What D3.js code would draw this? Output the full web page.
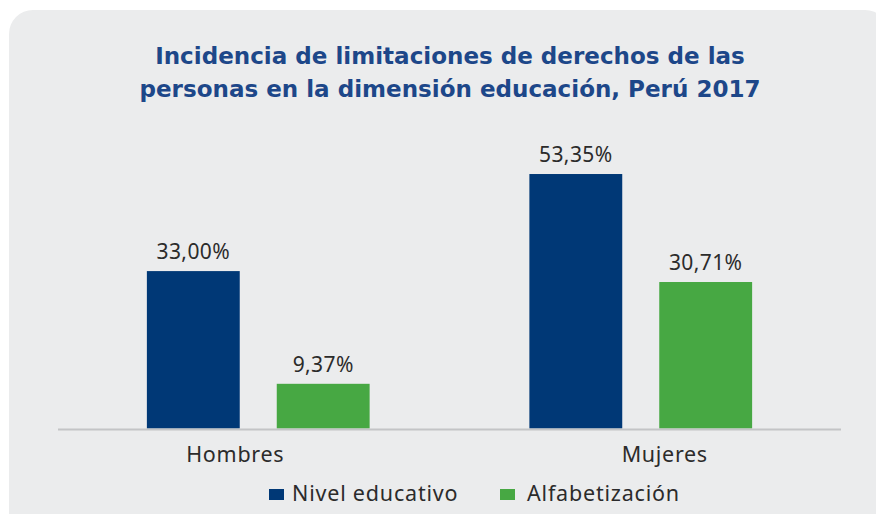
<!DOCTYPE html>
<html>
<head>
<meta charset="utf-8">
<script src="https://cdn.jsdelivr.net/npm/d3@7"></script>
<style>
  body { margin: 0; background: #ffffff; }
  text { font-family: "Noto Sans", sans-serif; }
</style>
</head>
<body>
<div id="wrapper"></div>
<script>
const categories = ["Hombres", "Mujeres"];
const seriesNames = ["Nivel educativo", "Alfabetización"];
const nivelEducativo = [33.00, 53.35];
const alfabetizacion = [9.37, 30.71];
const titleLines = [
    "Incidencia de limitaciones de derechos de las",
    "personas en la dimensión educación, Perú 2017"
];

const colors = ["#003876", "#47a843"];

function drawBarChart() {
    const width = 876;
    const height = 514;

    const dataset = categories.map((cat, i) => ({
        category: cat,
        values: [nivelEducativo[i], alfabetizacion[i]]
    }));

    const wrapper = d3.select("#wrapper")
        .append("svg")
            .attr("width", width)
            .attr("height", height);

    // gray rounded panel
    wrapper.append("rect")
        .attr("x", 9)
        .attr("y", 10)
        .attr("width", 880)
        .attr("height", 600)
        .attr("rx", 24)
        .attr("fill", "#ebeced");

    // title, sized so the first line spans ~590px like the original
    const title = wrapper.append("text")
        .attr("x", 450)
        .attr("y", 64)
        .attr("text-anchor", "middle")
        .attr("fill", "#1d4789")
        .style("font-family", "'DejaVu Sans', sans-serif")
        .style("font-size", "20px")
        .style("font-weight", "bold");

    title.selectAll("tspan")
        .data(titleLines)
        .join("tspan")
            .attr("x", 450)
            .attr("dy", (d, i) => i === 0 ? 0 : 33)
            .text(d => d);

    const firstLen = title.select("tspan").node().getComputedTextLength();
    title.style("font-size", `${20 * 590 / firstLen}px`);

    const baseline = 428.5;

    const xScale = d3.scaleBand()
        .domain(categories)
        .range([67, 832]);

    const innerScale = d3.scaleBand()
        .domain(d3.range(seriesNames.length))
        .range([0, xScale.bandwidth()])
        .paddingInner(0.285)
        .paddingOuter(0.615);

    const yScale = d3.scaleLinear()
        .domain([0, 60])
        .range([baseline, baseline - 60 * 4.77]);

    const groups = wrapper.append("g")
        .selectAll("g")
        .data(dataset)
        .join("g")
            .attr("transform", d => `translate(${xScale(d.category)},0)`);

    const fmt = v => d3.format(".2f")(v).replace(".", ",") + "%";

    groups.selectAll("rect")
        .data(d => d.values)
        .join("rect")
            .attr("x", (d, i) => innerScale(i))
            .attr("width", innerScale.bandwidth())
            .attr("y", d => yScale(d))
            .attr("height", d => baseline - yScale(d))
            .attr("fill", (d, i) => colors[i]);

    groups.selectAll("text")
        .data(d => d.values)
        .join("text")
            .attr("x", (d, i) => innerScale(i) + innerScale.bandwidth() / 2)
            .attr("y", d => yScale(d) - 12)
            .attr("text-anchor", "middle")
            .attr("fill", "#2b2b2b")
            .style("font-size", "21px")
            .style("letter-spacing", "0.4px")
            .text(d => fmt(d));

    // axis line and category labels
    const xAxisGenerator = d3.axisBottom(xScale)
        .tickSize(0)
        .tickPadding(0);

    const xAxis = wrapper.append("g")
        .attr("transform", `translate(0,${baseline + 1})`)
        .call(xAxisGenerator);

    xAxis.select(".domain").remove();
    xAxis.append("line")
        .attr("x1", 58)
        .attr("x2", 841)
        .attr("stroke", "#c3c4c6")
        .attr("stroke-width", 2);

    const labelShift = [-23, 24];
    xAxis.selectAll(".tick text")
        .attr("x", (d, i) => labelShift[i])
        .attr("y", 0)
        .attr("dy", "1.5em")
        .attr("fill", "#2b2b2b")
        .style("font-family", "'Noto Sans', sans-serif")
        .style("font-size", "21.5px")
        .style("letter-spacing", "0.7px");

    // legend
    const legendX = [269, 500];
    const legend = wrapper.append("g")
        .selectAll("g")
        .data(seriesNames)
        .join("g")
            .attr("transform", (d, i) => `translate(${legendX[i]},489)`);

    legend.append("rect")
        .attr("width", 15)
        .attr("height", 11)
        .attr("fill", (d, i) => colors[i]);

    legend.append("text")
        .attr("x", (d, i) => i === 0 ? 23 : 27)
        .attr("y", 12)
        .attr("fill", "#2b2b2b")
        .style("font-size", "21.5px")
        .style("letter-spacing", "0.8px")
        .text(d => d);
}

drawBarChart();
</script>
</body>
</html>
